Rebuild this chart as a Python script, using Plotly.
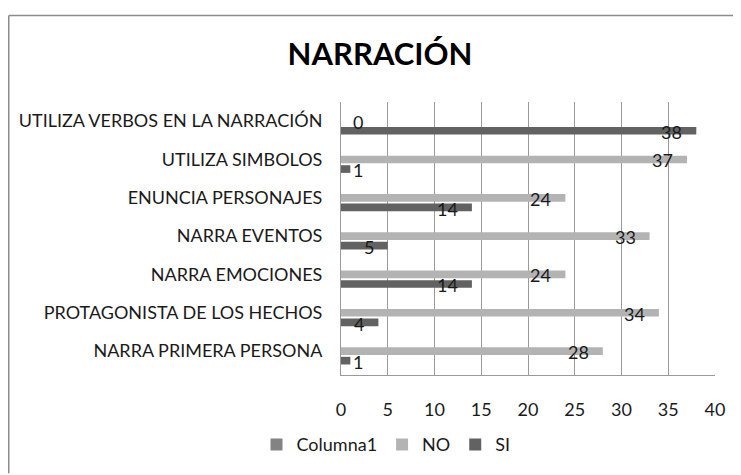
import plotly.graph_objects as go

# datos
categorias = ['NARRA PRIMERA PERSONA', 'PROTAGONISTA DE LOS HECHOS', 'NARRA EMOCIONES',
              'NARRA EVENTOS', 'ENUNCIA PERSONAJES', 'UTILIZA SIMBOLOS',
              'UTILIZA VERBOS EN LA NARRACIÓN']
si_vals = [1, 4, 14, 5, 14, 1, 38]
no_vals = [28, 34, 24, 33, 24, 37, 0]
columna1_vals = [None, None, None, None, None, None, None]
x_ticks = [0, 5, 10, 15, 20, 25, 30, 35, 40]

FONT = 'Lato, Open Sans, sans-serif'
OFF = 8  # margen del body de la pagina
W, H = 741 - OFF, 475 - OFF
L, R, T, B = 341 - OFF, 26, 102 - OFF, 95
pw, ph = W - L - R, H - T - B

fig = go.Figure()
# orden de trazas: SI abajo, NO en medio, Columna1 arriba
fig.add_trace(go.Bar(y=categorias, x=si_vals, name='SI', orientation='h',
                     marker=dict(color='#626262', line_width=0)))
fig.add_trace(go.Bar(y=categorias, x=no_vals, name='NO', orientation='h',
                     marker=dict(color='#b3b3b3', line_width=0)))
fig.add_trace(go.Bar(y=categorias, x=columna1_vals, name='Columna1', orientation='h',
                     marker=dict(color='#838383', line_width=0)))

px_per_unit = pw / 40
band = ph / len(categorias)
slot = band * 0.75 / 3

annotations = []
for vals, dy in [(no_vals, 0), (si_vals, -slot)]:
    for c, v in zip(categorias, vals):
        if v * px_per_unit > 28:
            annotations.append(dict(x=v, y=c, text=str(v), showarrow=False,
                                    xanchor='right', xshift=-12, yshift=dy - 1,
                                    font=dict(size=18, color='#1a1a1a', family=FONT)))
        else:
            annotations.append(dict(x=0, y=c, text=str(v), showarrow=False,
                                    xanchor='left', xshift=10, yshift=dy - 1,
                                    font=dict(size=18, color='#1a1a1a', family=FONT)))

# borde exterior (solo arriba e izquierda visibles)
x0 = (0.75 - L) / pw
y0 = (H - B - 6) / ph
shapes = [
    dict(type='line', xref='paper', yref='paper', x0=x0, x1=(W + 5 - L) / pw, y0=y0, y1=y0,
         line=dict(color='#8c8c8c', width=1.5)),
    dict(type='line', xref='paper', yref='paper', x0=x0, x1=x0, y0=y0, y1=-(B + 5) / ph,
         line=dict(color='#8c8c8c', width=1.5)),
]

fig.update_layout(
    width=W, height=H,
    margin=dict(l=L, r=R, t=T, b=B),
    paper_bgcolor='white', plot_bgcolor='white',
    barmode='group', bargap=0.25, bargroupgap=0.2,
    title=dict(text='<b>NARRACIÓN</b>', x=372 / W, xanchor='center',
               y=1 - 46 / H, yanchor='middle',
               font=dict(size=31, color='black', family=FONT)),
    font=dict(family=FONT, size=18, color='#1a1a1a'),
    xaxis=dict(range=[0, 40], tickvals=x_ticks, showgrid=True, gridcolor='#9a9a9a',
               gridwidth=1, zeroline=False, showline=True, linecolor='#9a9a9a',
               ticks='', ticklabelstandoff=18, tickfont=dict(size=18), fixedrange=True),
    yaxis=dict(showline=True, linecolor='#9a9a9a', ticks='', showgrid=False,
               ticklabelstandoff=14, tickfont=dict(size=18), fixedrange=True),
    legend=dict(orientation='h', traceorder='reversed', x=(378 - L) / pw,
                xanchor='center', y=-(443 - (H - B)) / ph, yanchor='middle',
                font=dict(size=18), itemwidth=30),
    shapes=shapes,
    annotations=annotations,
    showlegend=True,
)

fig.write_html('out.html')
